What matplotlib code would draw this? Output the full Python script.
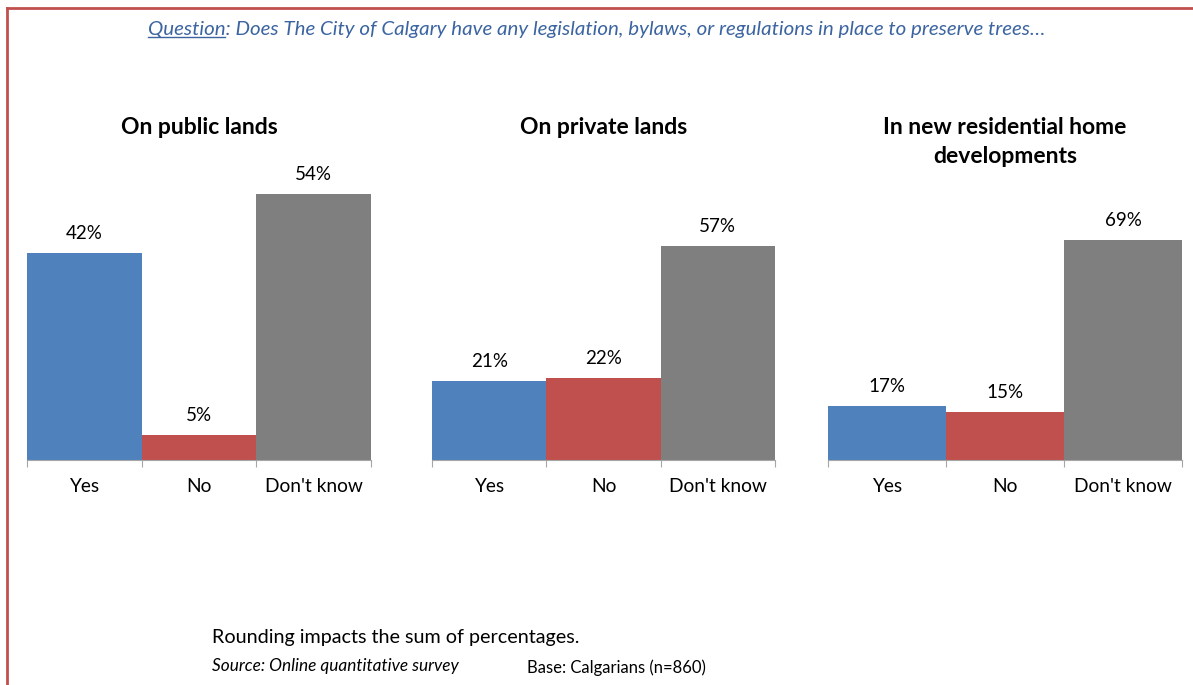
import matplotlib.pyplot as plt
from matplotlib.lines import Line2D

plt.rcParams['font.family'] = ['Lato', 'DejaVu Sans']

W, H = 1193, 685

categories = ["Yes", "No", "Don't know"]
panel_titles = ["On public lands", "On private lands",
                "In new residential home\ndevelopments"]
public_lands = [42, 5, 54]
private_lands = [21, 22, 57]
new_developments = [17, 15, 69]
panel_values = [public_lands, private_lands, new_developments]

colors = ["#4F81BD", "#C0504D", "#7F7F7F"]

# pixel layout of each panel: left, right, y-limit
panels = [(27, 371, 61), (432, 775, 80), (828, 1182, 94)]
base_y, top_y = 460, 160

fig = plt.figure(figsize=(W / 100, H / 100), dpi=100)

for (x0, x1, ymax), vals, title in zip(panels, panel_values, panel_titles):
    ax = fig.add_axes([x0 / W, 1 - base_y / H, (x1 - x0) / W, (base_y - top_y) / H])
    pos = range(len(categories))
    bars = ax.bar(pos, vals, width=1.0, color=colors)
    for b, v in zip(bars, vals):
        ax.annotate(f"{v}%", (b.get_x() + b.get_width() / 2, v),
                    xytext=(0, 14), textcoords="offset points",
                    ha="center", va="center", fontsize=13.5)
    ax.set_xlim(-0.5, 2.5)
    ax.set_ylim(0, ymax)
    for s in ["top", "right", "left"]:
        ax.spines[s].set_visible(False)
    ax.spines["bottom"].set_color("#A6A6A6")
    ax.set_yticks([])
    ax.set_xticks([-0.5, 0.5, 1.5, 2.5])
    ax.set_xticklabels([])
    ax.tick_params(axis="x", length=5, color="#A6A6A6")
    for i, c in enumerate(categories):
        ax.text(i, -0.09, c, transform=ax.get_xaxis_transform(),
                ha="center", va="center", fontsize=13.8)
    ty = 142 if "\n" in title else 127
    fig.text((x0 + x1) / 2 / W, 1 - ty / H, title, ha="center", va="center",
             fontsize=16.5, fontweight="bold", linespacing=1.45)

# question line with underlined lead word
q_color = "#3B64A0"
q = fig.text(0.5, 1 - 30 / H,
             "Question: Does The City of Calgary have any legislation, bylaws, "
             "or regulations in place to preserve trees\u2026",
             ha="center", va="center", fontsize=14.75, style="italic", color=q_color)
fig.canvas.draw()
r = fig.canvas.get_renderer()
qb = q.get_window_extent(r)
tmp = fig.text(0, 0, "Question", fontsize=14.75, style="italic")
wq = tmp.get_window_extent(r).width
tmp.remove()
uy = qb.y0 + 2
fig.add_artist(Line2D([qb.x0 / W, (qb.x0 + wq) / W], [uy / H, uy / H],
                      transform=fig.transFigure, color=q_color, lw=1))

fig.text(212 / W, 1 - 637 / H, "Rounding impacts the sum of percentages.",
         ha="left", va="center", fontsize=14.2)
fig.text(212 / W, 1 - 666 / H, "Source: Online quantitative survey",
         ha="left", va="center", fontsize=12.4, style="italic")
fig.text(527 / W, 1 - 668 / H, "Base: Calgarians (n=860)",
         ha="left", va="center", fontsize=12)

# red frame along top and left edge
border = "#C0504D"
fig.add_artist(Line2D([7 / W, 1], [1 - 8 / H, 1 - 8 / H],
                      transform=fig.transFigure, color=border, lw=2))
fig.add_artist(Line2D([7 / W, 7 / W], [0, 1 - 8 / H],
                      transform=fig.transFigure, color=border, lw=2))

fig.savefig("out.png", dpi=100)
